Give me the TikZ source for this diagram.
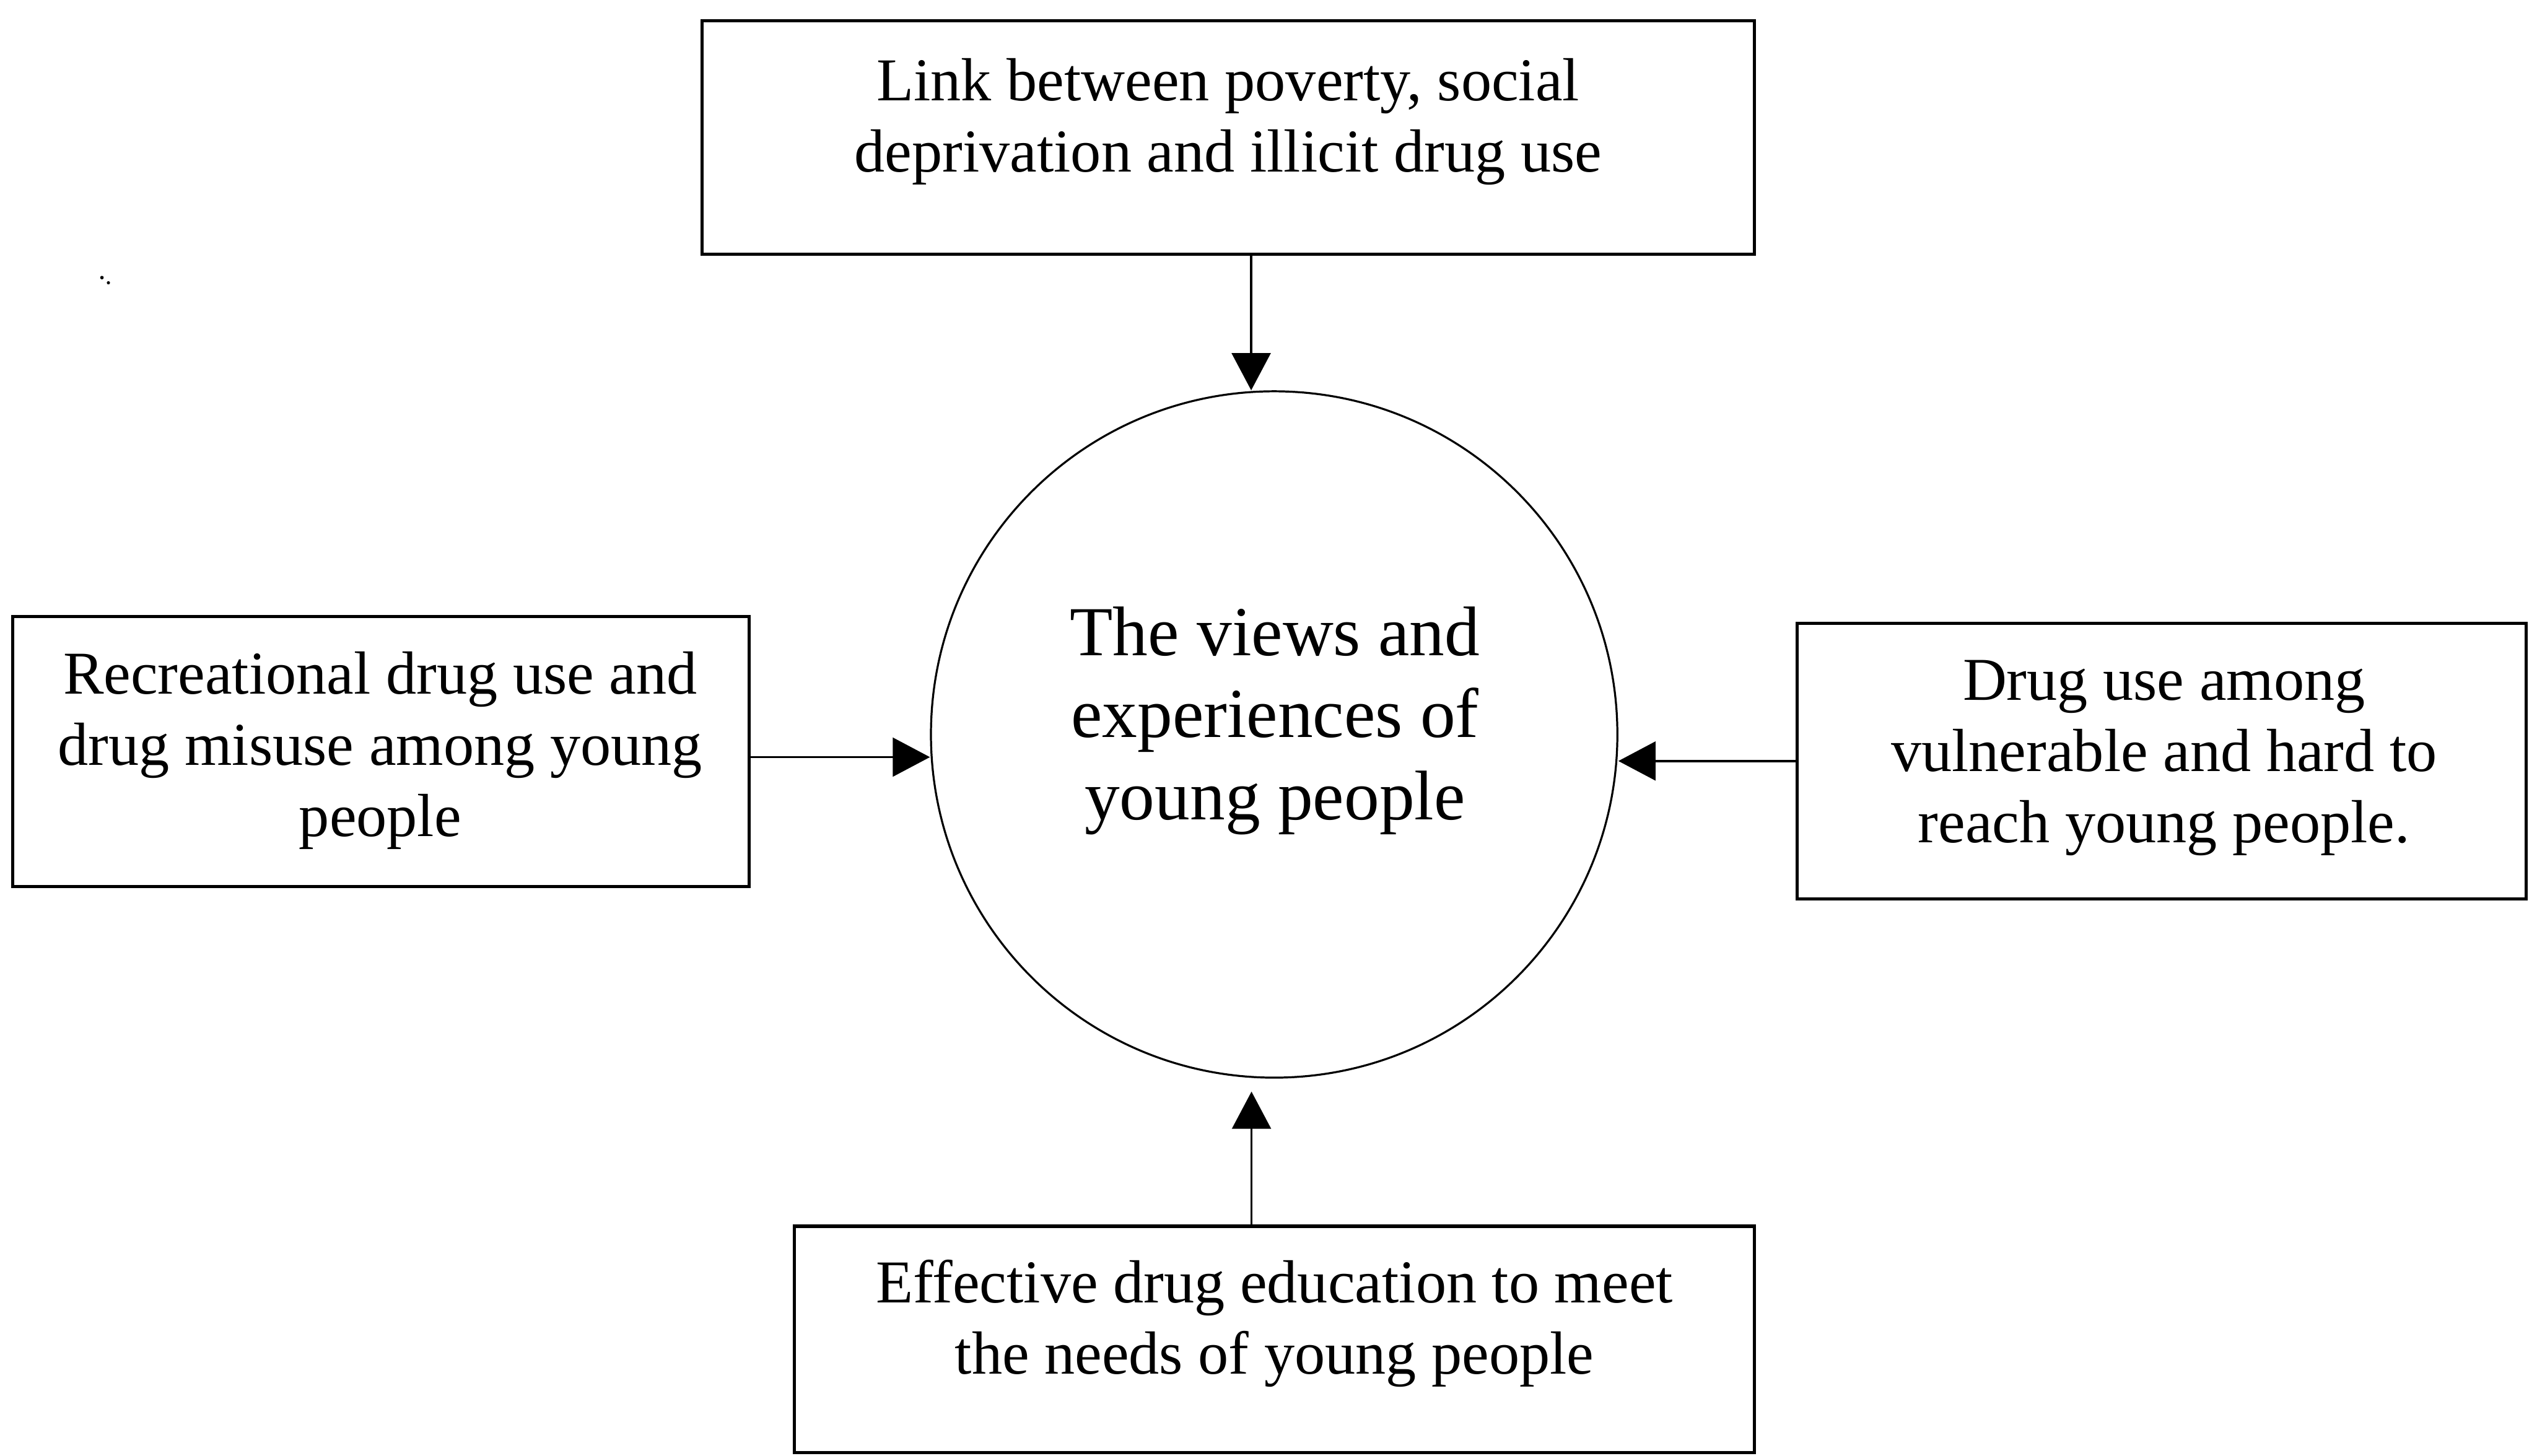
\documentclass[tikz,border=0pt]{standalone}
\usepackage{fontspec}
\setmainfont{Liberation Serif}
\usetikzlibrary{arrows.meta,calc}

\begin{document}
\begin{tikzpicture}[x=0.01cm,y=-0.01cm,
  box/.style={draw,line width=0.55pt,rectangle,inner sep=0pt},
  boxtext/.style={align=center,inner sep=0pt,
    font=\fontsize{10.7pt}{12.5pt}\selectfont},
  hubtext/.style={align=center,inner sep=0pt,
    font=\fontsize{12.35pt}{14.45pt}\selectfont},
  hub/.style={draw,line width=0.35pt,circle,inner sep=0pt,minimum size=4.24cm},
  arr/.style={line width=0.4pt,-{Triangle[length=2.3mm,width=2.4mm]}}]

  \useasboundingbox (0,0) rectangle (1568,900);

  % central circle
  \node[hub] (c) at (787.5,454) {};
  \node[hubtext] (ct) at (788,445.5)
    {The views and\\experiences of\\young people};

  % surrounding boxes
  \node[box,minimum width=6.5cm,minimum height=1.44cm] (b1) at (759,85) {};
  \node[boxtext] (t1) at (759,75.2)
    {Link between poverty, social\\deprivation and illicit drug use};

  \node[box,minimum width=4.55cm,minimum height=1.67cm] (b2) at (235.5,464.5) {};
  \node[boxtext] (t2) at (235,463.8)
    {Recreational drug use and\\drug misuse among young\\people};

  \node[box,minimum width=4.5cm,minimum height=1.7cm] (b3) at (1336,470.5) {};
  \node[boxtext] (t3) at (1337.5,468.5)
    {Drug use among\\vulnerable and hard to\\reach young people.};

  \node[box,minimum width=5.93cm,minimum height=1.40cm] (b4) at (787.5,828) {};
  \node[boxtext] (t4) at (787.7,818.2)
    {Effective drug education to meet\\the needs of young people};

  % connectors into the circle
  \draw[arr] (b1.south -| 773.3,0) -- (c.north -| 773.3,0);
  \draw[arr] (b2.east |- 0,468) -- (c.west |- 0,468);
  \draw[arr] (b3.west |- 0,470.4) -- (c.east |- 0,470.4);
  \draw[arr,shorten >=0.08cm] (b4.north -| 773.5,0) -- (c.south -| 773.5,0);

  % small specks near the upper left
  \fill (63,171.6) circle (1.1);
  \fill (67,174.8) circle (1);
\end{tikzpicture}
\end{document}
